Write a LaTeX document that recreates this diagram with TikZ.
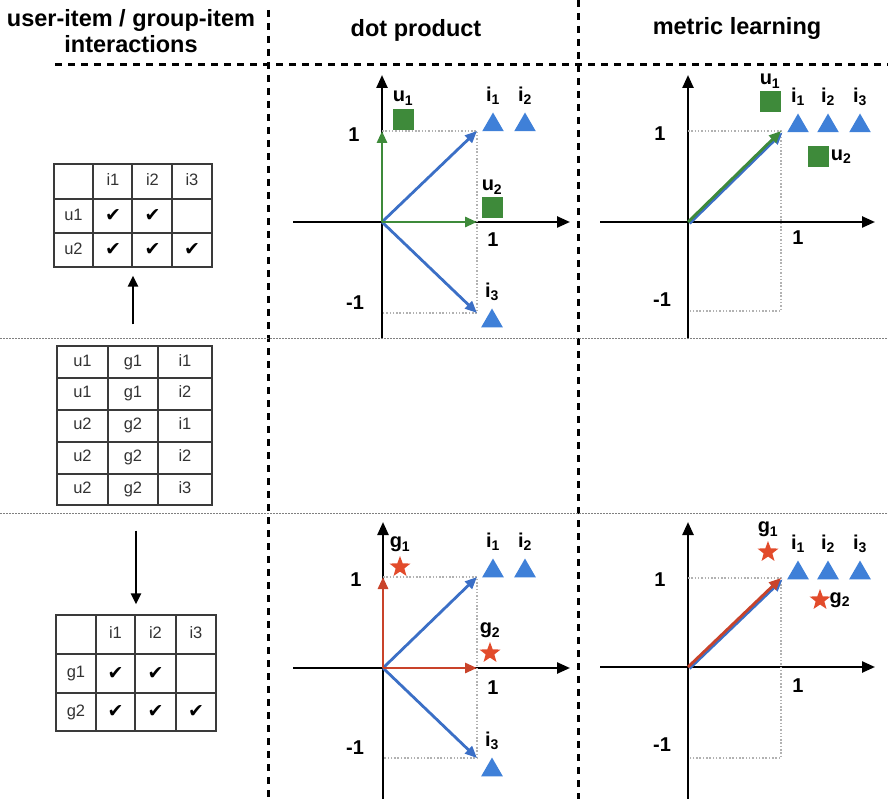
\documentclass[tikz,border=0pt]{standalone}
\usepackage{fontspec}
\setmainfont{Liberation Sans}
\newfontfamily\checkfont{DejaVu Sans}
\usetikzlibrary{arrows.meta, shapes.geometric, positioning}
\definecolor{usergreen}{HTML}{3E8A3A}
\definecolor{vecblue}{HTML}{3B6FC6}
\definecolor{groupred}{HTML}{C9432A}
\definecolor{itemblue}{HTML}{3F80D8}
\definecolor{starred}{HTML}{E24B2B}
\definecolor{gridgray}{HTML}{3A3A3A}

\begin{document}
\begin{tikzpicture}[x=1pt, y=-1pt,
		head/.style={font=\bfseries\fontsize{23.5}{26}\selectfont, align=center},
		tabframe/.style={draw=gridgray, line width=1.2pt, inner sep=0pt},
		tabline/.style={draw=gridgray, line width=1.2pt},
		cell/.style={font=\fontsize{16.5}{18}\selectfont, text=black!80, text height=11.5pt, text depth=3pt},
		tick/.style={font=\checkfont\fontsize{19}{20}\selectfont},
		flow/.style={line width=2.2pt, -{Triangle[length=11pt, width=10pt]}},
		colsep/.style={line width=3pt, dash pattern=on 7pt off 6pt},
		rowsep/.style={draw=gray, line width=1pt, dash pattern=on 1.5pt off 1.5pt},
		axis/.style={line width=2.4pt, -{Triangle[length=13pt, width=11pt]}},
		vec/.style={draw=#1, line width=2.8pt, -{Triangle[length=12pt, width=10pt]}},
		guide/.style={draw=gray!60, line width=1.6pt, dash pattern=on 1.5pt off 1.8pt},
		num/.style={font=\bfseries\fontsize{20}{22}\selectfont},
		lbl/.style={font=\bfseries\fontsize{20}{22}\selectfont, inner sep=0pt},
		user/.style={fill=usergreen, minimum size=21pt, inner sep=0pt},
		group/.style={star, star points=5, star point ratio=2.4, fill=starred, minimum size=22pt, inner sep=0pt},
		item/.style={regular polygon, regular polygon sides=3, fill=itemblue, minimum size=25pt, inner sep=0pt}
		]
		\useasboundingbox (0,0) rectangle (888,799);
		
		% column heads and separators
		\node[head] (hint) at (131,31) {user-item / group-item\\interactions};
		\node[head] (hdot) at (416,30) {dot product};
		\node[head] (hmet) at (737,28) {metric learning};
		\draw[colsep] (268,10) -- (268,799);
		\draw[colsep] (578,0) -- (578,799);
		\draw[colsep] (55,65) -- (888,65);
		\draw[rowsep] (0,338) -- (888,338);
		\draw[rowsep] (0,513) -- (888,513);
		
		% user-item table
		\node[tabframe, minimum width=158pt, minimum height=103pt] (uitab) at (133,215.5) {};
		\foreach \x in {93,132,172} \draw[tabline] (\x,164) -- (\x,267);
		\foreach \y in {199,233} \draw[tabline] (54,\y) -- (212,\y);
		\foreach \t [count=\c] in {i1,i2,i3} \node[cell] (ui-h\c) at ({73.5+39.5*\c},181.5) {\t};
		\node[cell] (ui-u1) at (73.5,216) {u1};
		\node[cell] (ui-u2) at (73.5,250) {u2};
		\foreach \c in {1,2} \node[tick] (ui-a\c) at ({73.5+39.5*\c},216) {✔};
		\foreach \c in {1,2,3} \node[tick] (ui-b\c) at ({73.5+39.5*\c},250) {✔};
		
		% user-group-item log
		\node[tabframe, minimum width=155pt, minimum height=159pt] (logtab) at (134.5,425.5) {};
		\foreach \x in {108,158} \draw[tabline] (\x,346) -- (\x,505);
		\foreach \y in {378,410,442,474} \draw[tabline] (57,\y) -- (212,\y);
		\foreach \u/\g/\i [count=\r] in {u1/g1/i1, u1/g1/i2, u2/g2/i1, u2/g2/i2, u2/g2/i3} {
			\node[cell] (log-u\r) at (82.5,{330+31.8*\r}) {\u};
			\node[cell] (log-g\r) at (133,{330+31.8*\r}) {\g};
			\node[cell] (log-i\r) at (185,{330+31.8*\r}) {\i};
		}
		
		% group-item table
		\node[tabframe, minimum width=160pt, minimum height=116pt] (gitab) at (136,673) {};
		\foreach \x in {96,135,176} \draw[tabline] (\x,615) -- (\x,731);
		\foreach \y in {654,693} \draw[tabline] (56,\y) -- (216,\y);
		\foreach \t/\x in {i1/115.5, i2/155.5, i3/196} \node[cell] at (\x,634.5) {\t};
		\node[cell] (gi-g1) at (76,673.5) {g1};
		\node[cell] (gi-g2) at (76,712) {g2};
		\foreach \x in {115.5,155.5} \node[tick] at (\x,673.5) {✔};
		\foreach \x in {115.5,155.5,196} \node[tick] at (\x,712) {✔};
		
		\draw[flow, shorten <=21pt, shorten >=8pt] (logtab.north -| uitab.south) -- (uitab.south);
		\draw[flow, shorten <=25pt, shorten >=10pt] (logtab.south -| gitab.north) -- (gitab.north);
		
		% dot product, users
		\begin{scope}[shift={(382,222)}]
			\coordinate (dpu-o) at (0,0);
			\coordinate (dpu-x) at (95,0);
			\coordinate (dpu-y) at (0,-91);
			\coordinate (dpu-a) at (95,-91);
			\coordinate (dpu-b) at (95,91);
			\draw[axis] (-89,0) -- (188,0);
			\draw[axis] (0,116) -- (0,-147);
			\draw[guide] (dpu-y) -- (dpu-a) -- (dpu-b) -- (0,91);
			\node[num] at (-28,-87) {1};
			\node[num] at (111,18) {1};
			\node[num] at (-27,81) {-1};
			\draw[vec=vecblue] (dpu-o) -- (dpu-a);
			\draw[vec=vecblue] (dpu-o) -- (dpu-b);
			\draw[vec=usergreen] (dpu-o) -- (dpu-y);
			\draw[vec=usergreen] (dpu-o) -- (dpu-x);
			\node[user] (dpu-u1) at (21,-102) {};
			\node[lbl, anchor=south] at ([yshift=4pt]dpu-u1.north) {u\textsubscript{1}};
			\node[user] (dpu-u2) at (110,-14) {};
			\node[lbl, anchor=south] at ([yshift=3pt]dpu-u2.north) {u\textsubscript{2}};
			\node[item] (dpu-i1) at (111,-97) {};
			\node[item] (dpu-i2) at (143,-97) {};
			\node[item] (dpu-i3) at (110,99) {};
			\foreach \k in {1,2,3} \node[lbl, anchor=south] at ([yshift=7pt]dpu-i\k.north) {i\textsubscript{\k}};
		\end{scope}
		
		% metric learning, users
		\begin{scope}[shift={(688,222)}]
			\coordinate (mlu-o) at (0,0);
			\coordinate (mlu-a) at (93,-91);
			\draw[axis] (-88,0) -- (187,0);
			\draw[axis] (0,116) -- (0,-147);
			\draw[guide] (0,-91) -- (93,-91) -- (93,89) -- (0,89);
			\node[num] at (-28,-88) {1};
			\node[num] at (110,16) {1};
			\node[num] at (-26,78) {-1};
			\draw[vec=vecblue] ([xshift=1.5pt, yshift=-1.5pt]mlu-o) -- ([xshift=1.5pt, yshift=-1.5pt]mlu-a);
			\draw[vec=usergreen] (mlu-o) -- (mlu-a);
			\node[user] (mlu-u1) at (82,-120) {};
			\node[lbl, anchor=south] at ([yshift=3pt]mlu-u1.north) {u\textsubscript{1}};
			\node[user] (mlu-u2) at (130,-65) {};
			\node[lbl, anchor=west] at ([xshift=2pt]mlu-u2.east) {u\textsubscript{2}};
			\foreach \k/\x in {1/110, 2/140, 3/172} {
				\node[item] (mlu-i\k) at (\x,-96) {};
				\node[lbl, anchor=south] at ([yshift=7pt]mlu-i\k.north) {i\textsubscript{\k}};
			}
		\end{scope}
		
		% dot product, groups
		\begin{scope}[shift={(383,668)}]
			\coordinate (dpg-o) at (0,0);
			\coordinate (dpg-x) at (94,0);
			\coordinate (dpg-y) at (0,-91);
			\coordinate (dpg-a) at (94,-91);
			\coordinate (dpg-b) at (94,90);
			\draw[axis] (-90,0) -- (187,0);
			\draw[axis] (0,131) -- (0,-146);
			\draw[guide] (dpg-y) -- (dpg-a) -- (dpg-b) -- (0,90);
			\node[num] at (-27,-88) {1};
			\node[num] at (110,20) {1};
			\node[num] at (-28,80) {-1};
			\draw[vec=vecblue] (dpg-o) -- (dpg-a);
			\draw[vec=vecblue] (dpg-o) -- (dpg-b);
			\draw[vec=groupred] (dpg-o) -- (dpg-y);
			\draw[vec=groupred] (dpg-o) -- (dpg-x);
			\node[group] (dpg-g1) at (17,-101) {};
			\node[lbl, anchor=south] at ([yshift=3pt]dpg-g1.north) {g\textsubscript{1}};
			\node[group] (dpg-g2) at (107,-15) {};
			\node[lbl, anchor=south] at ([yshift=3pt]dpg-g2.north) {g\textsubscript{2}};
			\node[item] (dpg-i1) at (110,-97) {};
			\node[item] (dpg-i2) at (142,-97) {};
			\node[item] (dpg-i3) at (109,102) {};
			\foreach \k in {1,2,3} \node[lbl, anchor=south] at ([yshift=7pt]dpg-i\k.north) {i\textsubscript{\k}};
		\end{scope}
		
		% metric learning, groups
		\begin{scope}[shift={(688,667)}]
			\coordinate (mlg-o) at (0,0);
			\coordinate (mlg-a) at (93,-89);
			\draw[axis] (-88,0) -- (187,0);
			\draw[axis] (0,132) -- (0,-145);
			\draw[guide] (0,-89) -- (93,-89) -- (93,91) -- (0,91);
			\node[num] at (-28,-87) {1};
			\node[num] at (110,19) {1};
			\node[num] at (-26,78) {-1};
			\draw[vec=vecblue] ([xshift=1.5pt, yshift=-1.5pt]mlg-o) -- ([xshift=1.5pt, yshift=-1.5pt]mlg-a);
			\draw[vec=groupred] (mlg-o) -- (mlg-a);
			\node[group] (mlg-g1) at (80,-115) {};
			\node[lbl, anchor=south] at ([yshift=3pt]mlg-g1.north) {g\textsubscript{1}};
			\node[group] (mlg-g2) at (132,-67) {};
			\node[lbl, anchor=west] at ([xshift=3pt]mlg-g2.east) {g\textsubscript{2}};
			\foreach \k/\x in {1/110, 2/140, 3/172} {
				\node[item] (mlg-i\k) at (\x,-94) {};
				\node[lbl, anchor=south] at ([yshift=7pt]mlg-i\k.north) {i\textsubscript{\k}};
			}
		\end{scope}
		
	\end{tikzpicture}
\end{document}
